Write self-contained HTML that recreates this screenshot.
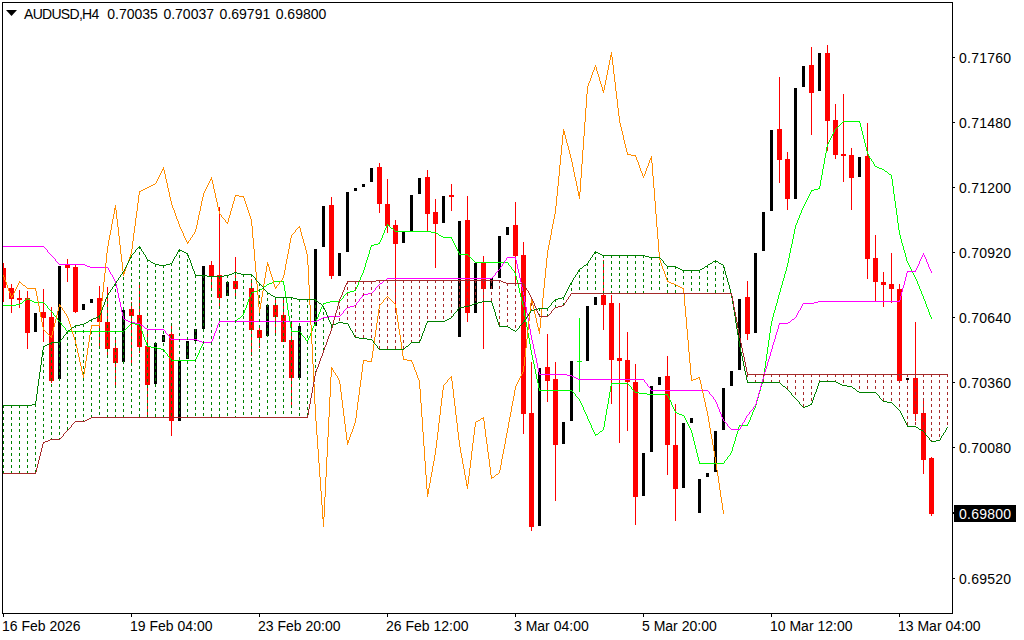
<!DOCTYPE html>
<html><head><meta charset="utf-8"><title>AUDUSD,H4</title>
<style>
html,body{margin:0;padding:0;background:#fff;}
body{width:1024px;height:640px;position:relative;overflow:hidden;font-family:"Liberation Sans",Arial,sans-serif;}
svg{position:absolute;left:0;top:0;}
.t{position:absolute;font-size:14px;line-height:16px;color:#000;white-space:nowrap;}
.w{color:#fff;}
.pb{position:absolute;left:954px;top:505px;width:62px;height:17px;background:#000;}
</style></head><body>
<svg width="1024" height="640" viewBox="0 0 1024 640" shape-rendering="crispEdges" fill="none" stroke-width="1">
<defs><clipPath id="c"><rect x="3" y="3" width="949" height="610"/></clipPath></defs>
<g clip-path="url(#c)">
<path d="M3.5 263v39M11.5 284v29M19.5 290v18M27.5 291v58M43.5 289v53M51.5 307v76M67.5 259v23M75.5 265v48M99.5 286v61M107.5 287v68M115.5 340v45M131.5 302v61M139.5 284v69M147.5 329v87M171.5 323v113M211.5 261v27M219.5 207v99M235.5 257v40M251.5 279v77M259.5 326v22M275.5 300v36M283.5 300v42M291.5 323v84M331.5 197v82M379.5 163v50M387.5 179v54M395.5 220v93M427.5 170v61M435.5 199v69M451.5 184v27M467.5 196v126M483.5 256v93M515.5 202v82M523.5 242v192M531.5 362v169M547.5 334v68M555.5 362v139M603.5 260v70M611.5 295v109M619.5 303v140M627.5 332v99M635.5 364v161M667.5 356v119M675.5 404v117M747.5 281v59M779.5 77v106M787.5 152v58M811.5 47v88M827.5 45v106M835.5 104v55M843.5 94v88M851.5 148v62M867.5 123v156M875.5 235v66M883.5 272v35M891.5 253v50M899.5 284v97M915.5 322v99M923.5 398v76M931.5 457v59" stroke="#ff0000"/>
<path d="M1 268h5v20h-5zM9 288h5v11h-5zM17 298h5v2h-5zM25 298h5v35h-5zM41 312h5v6h-5zM49 317h5v64h-5zM65 265h5v3h-5zM73 267h5v45h-5zM97 298h5v24h-5zM105 322h5v27h-5zM113 348h5v15h-5zM129 309h5v7h-5zM137 315h5v32h-5zM145 346h5v39h-5zM169 334h5v87h-5zM209 265h5v11h-5zM217 275h5v23h-5zM233 281h5v8h-5zM249 288h5v42h-5zM257 330h5v8h-5zM273 305h5v12h-5zM281 315h5v27h-5zM289 340h5v38h-5zM329 205h5v71h-5zM377 167h5v37h-5zM385 204h5v22h-5zM393 225h5v19h-5zM425 177h5v37h-5zM433 212h5v12h-5zM449 195h5v2h-5zM465 220h5v93h-5zM481 263h5v26h-5zM513 225h5v31h-5zM521 255h5v159h-5zM529 413h5v114h-5zM545 367h5v14h-5zM553 379h5v66h-5zM601 295h5v10h-5zM609 303h5v57h-5zM617 358h5v3h-5zM625 360h5v22h-5zM633 382h5v115h-5zM665 376h5v69h-5zM673 445h5v44h-5zM745 297h5v37h-5zM777 129h5v31h-5zM785 159h5v40h-5zM809 65h5v28h-5zM825 53h5v68h-5zM833 120h5v35h-5zM841 154h5v2h-5zM849 155h5v23h-5zM865 156h5v103h-5zM873 258h5v24h-5zM881 282h5v3h-5zM889 284h5v5h-5zM897 289h5v92h-5zM913 378h5v36h-5zM921 413h5v47h-5zM929 458h5v56h-5z" fill="#ff0000" stroke="none"/>
<path d="M34 313h3v19h-3zM58 266h3v113h-3zM82 304h3v6h-3zM90 299h3v4h-3zM122 310h3v52h-3zM154 343h3v41h-3zM162 335h3v7h-3zM178 361h3v60h-3zM186 341h3v18h-3zM194 329h3v12h-3zM202 266h3v63h-3zM226 282h3v14h-3zM266 305h3v31h-3zM298 326h3v52h-3zM314 249h3v77h-3zM322 206h3v41h-3zM338 253h3v23h-3zM346 192h3v60h-3zM354 188h3v3h-3zM362 184h3v3h-3zM370 168h3v14h-3zM402 232h3v11h-3zM410 195h3v36h-3zM418 178h3v16h-3zM442 196h3v27h-3zM458 221h3v116h-3zM474 263h3v50h-3zM490 278h3v11h-3zM498 236h3v42h-3zM506 227h3v8h-3zM538 368h3v158h-3zM562 422h3v22h-3zM570 361h3v60h-3zM586 306h3v55h-3zM594 297h3v8h-3zM642 453h3v43h-3zM650 386h3v66h-3zM658 377h3v8h-3zM682 423h3v65h-3zM690 418h3v5h-3zM698 479h3v34h-3zM706 473h3v4h-3zM714 431h3v41h-3zM722 388h3v42h-3zM730 371h3v15h-3zM738 299h3v71h-3zM754 253h3v80h-3zM762 212h3v39h-3zM770 130h3v81h-3zM794 88h3v111h-3zM802 66h3v21h-3zM818 53h3v38h-3zM858 157h3v20h-3zM906 378h3v2h-3z" fill="#000000" stroke="none"/>
<path d="M579.5 318v74M577 361.5h5" stroke="#00ff00"/>
<path d="M818 188.5h2M306 340.5h2M67 331.5h57M291 331.5h9M647 394.5h21M475 262.5h33M171 360.5h25M679 414.5h3M16 304.5h4M272 282.5h2M395 231.5h36M699 463.5h25M611 383.5h17M34 302.5h10M326 302.5h4M443 237.5h9M539 390.5h33M739 425.5h9M24 300.5h2M30 300.5h2M28 299.5h2M32 301.5h2M330 301.5h10M682 415.5h2M875 166.5h2M267 284.5h2M135 324.5h5M260 289.5h2M151 347.5h6M441 236.5h2M3 305.5h13M274 281.5h10M203 342.5h9M131 323.5h4M219 321.5h17M20 303.5h2M323 303.5h3M238 318.5h2M378 243.5h2M269 283.5h3M374 244.5h4M595 434.5h3M459 254.5h9M147 346.5h4M161 349.5h3M371 245.5h3M391 228.5h2M639 393.5h8M600 431.5h2M157 348.5h4M811 190.5h3M843 121.5h17M264 286.5h2M879 168.5h3M251 292.5h3M347 292.5h3M675 412.5h2M439 235.5h2M677 413.5h2M431 232.5h5M814 189.5h4M635 392.5h4M877 167.5h2M882 169.5h2M254 291.5h4M350 291.5h4M436 233.5h2M258 290.5h2M354 290.5h2M885 171.5h2M387 225.5h2M889 174.5h2M828.5 142v2M803.5 206v2M898.5 223v7M139.5 325v1M755.5 405v3M318.5 314v3M926.5 304v3M574.5 393v1M287.5 303v7M211.5 341v1M385.5 228v2M693.5 437v4M862.5 131v4M456.5 247v2M361.5 275v2M607.5 404v5M891.5 175v4M250.5 294v3M536.5 374v5M513.5 270v1M732.5 447v4M214.5 333v3M365.5 263v4M808.5 196v2M63.5 326v1M284.5 285v6M736.5 434v3M532.5 355v5M146.5 342v3M832.5 134v2M774.5 310v3M164.5 350v2M369.5 250v4M764.5 368v7M922.5 294v2M912.5 271v2M44.5 303v1M897.5 215v8M668.5 396v2M824.5 158v6M592.5 428v2M453.5 241v2M603.5 427v3M869.5 156v2M242.5 315v1M533.5 360v4M317.5 317v2M731.5 451v2M219.5 322v1M22.5 302v1M769.5 333v7M791.5 244v4M360.5 277v3M168.5 356v1M752.5 412v3M790.5 248v5M873.5 162v2M795.5 225v4M142.5 331v3M364.5 267v3M202.5 344v2M519.5 288v5M919.5 286v3M756.5 401v4M690.5 428v2M807.5 198v2M631.5 387v2M309.5 336v2M782.5 281v4M301.5 333v2M512.5 269v1M529.5 338v6M389.5 226v1M865.5 143v4M760.5 387v4M901.5 239v4M894.5 194v7M290.5 322v6M686.5 420v2M62.5 325v1M786.5 267v4M823.5 164v5M145.5 340v2M584.5 410v2M523.5 305v5M305.5 338v2M591.5 425v3M751.5 415v2M827.5 144v3M687.5 422v2M915.5 277v2M594.5 432v2M526.5 322v5M781.5 285v3M384.5 230v3M697.5 453v4M459.5 253v1M672.5 405v2M768.5 340v7M577.5 397v1M819.5 186v2M778.5 295v4M539.5 388v2M911.5 269v2M312.5 328v3M908.5 263v2M735.5 437v4M921.5 291v3M773.5 313v4M929.5 312v3M452.5 239v2M368.5 254v3M750.5 417v3M525.5 316v6M777.5 299v4M606.5 409v6M535.5 369v5M689.5 426v2M286.5 297v6M763.5 375v5M610.5 386v6M213.5 336v3M340.5 300v1M794.5 229v5M630.5 386v1M55.5 316v1M925.5 301v3M511.5 267v2M734.5 441v3M900.5 235v4M772.5 317v4M674.5 409v2M367.5 257v3M61.5 323v2M379.5 242v1M822.5 169v6M776.5 303v3M675.5 411v1M759.5 391v3M727.5 457v2M789.5 253v5M914.5 275v2M283.5 282v3M696.5 449v4M518.5 284v4M455.5 245v2M218.5 323v2M167.5 354v2M811.5 191v1M868.5 154v2M130.5 324v1M767.5 347v7M871.5 159v2M343.5 296v2M699.5 461v2M528.5 333v5M907.5 261v2M864.5 139v4M47.5 306v2M308.5 338v2M821.5 175v5M872.5 161v1M538.5 383v5M355.5 289v1M289.5 316v6M141.5 329v2M893.5 186v8M758.5 394v4M611.5 384v2M249.5 297v2M470.5 257v1M522.5 301v4M802.5 208v2M598.5 433v1M826.5 147v6M762.5 380v4M54.5 315v1M383.5 233v2M583.5 407v3M304.5 337v1M793.5 234v5M515.5 273v3M316.5 319v2M887.5 172v1M576.5 396v1M730.5 453v2M65.5 328v2M831.5 136v2M363.5 270v3M521.5 297v4M248.5 299v3M671.5 402v3M692.5 433v4M861.5 127v4M910.5 267v2M580.5 401v2M144.5 337v3M931.5 317v2M454.5 243v2M785.5 271v3M788.5 258v5M738.5 427v4M359.5 280v2M371.5 246v1M590.5 423v2M838.5 126v1M315.5 321v3M903.5 246v4M201.5 346v2M362.5 273v2M170.5 358v2M899.5 230v5M780.5 288v4M140.5 326v3M217.5 325v3M784.5 274v4M632.5 389v1M928.5 309v3M514.5 271v2M390.5 227v1M531.5 350v5M125.5 329v1M685.5 418v2M582.5 405v2M633.5 390v1M801.5 210v3M913.5 273v2M575.5 394v2M749.5 420v2M896.5 208v7M64.5 327v1M382.5 235v3M924.5 299v2M307.5 341v1M244.5 310v3M783.5 278v3M909.5 265v2M766.5 354v7M806.5 200v2M930.5 315v2M902.5 243v3M251.5 293v1M196.5 357v2M733.5 444v3M451.5 238v1M366.5 260v3M874.5 164v2M920.5 289v2M737.5 431v3M698.5 457v4M775.5 306v4M867.5 151v3M370.5 247v3M358.5 282v3M695.5 445v4M53.5 313v2M604.5 421v6M825.5 153v5M288.5 310v6M534.5 364v5M688.5 424v2M605.5 415v6M892.5 179v7M792.5 239v5M537.5 379v4M57.5 318v2M609.5 392v6M917.5 281v3M684.5 416v2M770.5 326v7M262.5 288v1M724.5 461v2M216.5 328v3M673.5 407v2M579.5 399v2M771.5 321v5M143.5 334v3M314.5 324v2M524.5 310v6M45.5 304v1M761.5 384v3M860.5 123v4M517.5 280v4M608.5 398v6M285.5 291v6M765.5 361v7M906.5 257v4M670.5 400v2M46.5 305v1M520.5 293v4M169.5 357v1M26.5 299v1M589.5 421v2M247.5 302v3M530.5 344v6M830.5 138v2M527.5 327v6M863.5 135v4M291.5 328v3M820.5 180v6M866.5 147v4M800.5 213v2M694.5 441v4M895.5 201v7M381.5 238v2M905.5 253v4M729.5 455v1M56.5 317v1M779.5 292v3M246.5 305v3M200.5 348v2M266.5 285v1M129.5 325v1M578.5 398v1M342.5 298v1M345.5 294v1M923.5 296v3M357.5 285v2M516.5 276v4M127.5 327v1M787.5 263v4M199.5 350v3M438.5 234v1M691.5 430v3M322.5 305v2M215.5 331v2M471.5 258v1M748.5 422v2M581.5 403v2M472.5 259v1M195.5 359v1M904.5 250v3M799.5 215v3M888.5 173v1M840.5 124v1M66.5 330v1M837.5 127v1M669.5 398v2M588.5 419v2M48.5 308v1M124.5 330v1M918.5 284v2M237.5 319v1M634.5 391v1M241.5 316v1M198.5 353v2M587.5 416v3M245.5 308v2M884.5 170v1M602.5 430v1M313.5 326v2M739.5 426v1M356.5 287v2M302.5 335v1M595.5 435v1M321.5 307v2M835.5 129v1M380.5 240v2M508.5 263v2M320.5 309v3M798.5 218v2M58.5 320v1M810.5 192v2M473.5 260v1M344.5 295v1M474.5 261v1M126.5 328v1M754.5 408v2M842.5 122v1M667.5 395v1M747.5 424v1M726.5 459v1M243.5 313v2M197.5 355v2M51.5 311v1M805.5 202v2M839.5 125v1M236.5 320v1M300.5 332v1M757.5 398v3M797.5 220v3M834.5 130v2M319.5 312v2M49.5 309v1M809.5 194v2M586.5 414v2M387.5 224v1M50.5 310v1M311.5 331v2M23.5 301v1M572.5 391v1M240.5 317v1M916.5 279v2M629.5 385v1M147.5 345v1M753.5 410v2M829.5 140v2M212.5 339v2M386.5 226v2M458.5 251v2M310.5 333v3M263.5 287v1M628.5 384v1M927.5 307v2M796.5 223v2M469.5 256v1M833.5 132v2M27.5 298v1M60.5 322v1M303.5 336v1M593.5 430v2M203.5 343v1M457.5 249v2M804.5 204v2M394.5 230v1M841.5 123v1M165.5 352v1M346.5 293v1M725.5 460v1M859.5 122v1M166.5 353v1M468.5 255v1M585.5 412v2M509.5 265v1M128.5 326v1M341.5 299v1M59.5 321v1M510.5 266v1M599.5 432v1M393.5 229v1M323.5 304v1M728.5 456v1M870.5 158v1M52.5 312v1M573.5 392v1M836.5 128v1" stroke="#00ff00"/>
<path d="M199 341.5h3M135 323.5h5M779 323.5h9M907 271.5h9M387 278.5h105M128 321.5h2M219 321.5h98M651 390.5h57M323 317.5h5M59 264.5h26M124 319.5h2M319 319.5h2M792 319.5h2M818 301.5h82M578 379.5h66M539 374.5h28M814 302.5h4M171 339.5h26M202 342.5h10M328 316.5h12M368 293.5h4M147 329.5h17M130 322.5h5M788 322.5h2M3 246.5h41M90 267.5h18M145 328.5h2M731 429.5h9M347 307.5h3M803 303.5h11M363 294.5h5M197 340.5h2M572 376.5h2M350 306.5h4M384 280.5h2M567 375.5h5M354 305.5h2M507 257.5h9M576 378.5h2M141 325.5h2M126 320.5h2M317 320.5h2M87 266.5h3M85 265.5h2M321 318.5h2M380 283.5h2M574 377.5h2M797.5 313v2M800.5 308v2M752.5 409v1M755.5 404v2M340.5 315v1M211.5 341v1M769.5 356v3M530.5 329v6M650.5 388v2M923.5 253v2M527.5 313v5M214.5 333v3M717.5 404v3M523.5 291v5M773.5 342v3M516.5 260v4M764.5 372v4M379.5 284v1M796.5 315v2M526.5 307v6M219.5 322v1M777.5 329v3M383.5 281v1M113.5 277v2M919.5 261v3M721.5 414v3M930.5 269v2M536.5 358v5M724.5 421v1M756.5 400v4M931.5 271v2M899.5 300v1M123.5 316v3M772.5 345v4M165.5 331v2M725.5 422v1M760.5 386v4M116.5 284v4M776.5 332v3M533.5 344v5M926.5 259v3M117.5 288v5M497.5 271v1M356.5 303v2M918.5 264v2M120.5 302v5M713.5 397v2M519.5 273v5M907.5 272v1M768.5 359v3M492.5 277v1M529.5 324v5M714.5 399v1M532.5 340v4M109.5 270v2M763.5 376v3M213.5 336v3M119.5 298v4M767.5 362v4M500.5 267v2M343.5 311v2M52.5 256v1M525.5 302v5M53.5 257v1M759.5 390v3M359.5 299v2M218.5 323v2M779.5 324v1M112.5 275v2M929.5 267v2M44.5 247v1M758.5 393v4M922.5 255v2M108.5 268v2M164.5 330v1M45.5 248v1M751.5 410v1M720.5 412v2M362.5 295v2M528.5 318v6M791.5 320v1M746.5 416v2M522.5 287v4M716.5 402v2M795.5 317v1M902.5 288v4M535.5 354v4M118.5 293v5M515.5 258v2M775.5 335v4M499.5 269v1M917.5 266v2M742.5 423v2M906.5 273v4M723.5 419v2M799.5 310v1M754.5 406v1M217.5 325v3M727.5 424v2M644.5 380v2M122.5 312v4M771.5 349v3M762.5 379v4M518.5 269v4M719.5 409v3M645.5 382v1M55.5 259v2M741.5 425v2M905.5 277v4M766.5 366v3M757.5 397v3M538.5 368v4M921.5 257v2M715.5 400v2M342.5 313v1M115.5 281v3M531.5 335v5M345.5 309v1M373.5 291v1M770.5 352v4M901.5 292v4M47.5 250v2M722.5 417v2M496.5 272v1M765.5 369v3M928.5 264v3M48.5 252v1M521.5 282v5M778.5 325v4M216.5 328v3M900.5 296v4M761.5 383v3M916.5 268v2M534.5 349v5M537.5 363v5M753.5 407v2M121.5 307v5M376.5 287v1M502.5 264v2M745.5 418v2M166.5 333v1M726.5 423v1M524.5 296v6M774.5 339v3M517.5 264v5M167.5 334v1M520.5 278v4M744.5 420v2M54.5 258v1M143.5 326v1M904.5 281v4M740.5 427v2M215.5 331v2M361.5 297v1M748.5 414v1M920.5 259v2M729.5 427v1M647.5 384v2M498.5 270v1M341.5 314v1M114.5 279v2M505.5 260v1M46.5 249v1M728.5 426v1M903.5 285v3M927.5 262v2M169.5 336v2M375.5 288v2M378.5 285v1M646.5 383v1M344.5 310v1M56.5 261v1M718.5 407v2M57.5 262v1M110.5 272v2M493.5 276v1M915.5 270v1M168.5 335v1M49.5 253v1M382.5 282v1M539.5 372v2M386.5 279v1M501.5 266v1M504.5 261v2M710.5 394v1M709.5 392v2M648.5 386v1M743.5 422v1M649.5 387v1M144.5 327v1M747.5 415v1M750.5 411v1M358.5 301v1M802.5 304v2M374.5 290v1M708.5 391v1M798.5 311v2M495.5 273v2M790.5 321v1M346.5 308v1M377.5 286v1M170.5 338v1M730.5 428v1M925.5 257v2M140.5 324v1M212.5 339v2M712.5 396v1M111.5 274v1M794.5 318v1M51.5 255v1M503.5 263v1M506.5 258v2M924.5 255v2M749.5 412v2M372.5 292v1M711.5 395v1M58.5 263v1M801.5 306v2M357.5 302v1M50.5 254v1M494.5 275v1M360.5 298v1" stroke="#ff00ff"/>
<path d="M3.5 405V474M11.5 405V474M19.5 405V474M27.5 405V474M35.5 404V474M43.5 346V443M51.5 342V440M59.5 342V440M67.5 331V431M75.5 325V422M83.5 324V422M91.5 319V418M99.5 316V418M107.5 295V418M115.5 283V418M123.5 271V418M131.5 255V418M139.5 246V418M147.5 259V418M155.5 264V418M163.5 265V418M171.5 263V418M179.5 249V418M187.5 253V418M195.5 275V418M203.5 275V418M211.5 276V418M219.5 276V418M227.5 275V418M235.5 272V418M243.5 274V418M251.5 274V418M259.5 283V418M267.5 292V418M275.5 297V418M283.5 297V418M291.5 297V418M299.5 299V418M307.5 299V418M315.5 299V374M323.5 306V352M331.5 325V330M539.5 308V317M547.5 308V317M555.5 299V308M563.5 297V306M571.5 282V294M579.5 269V294M587.5 263V294M595.5 251V294M603.5 255V294M611.5 255V294M619.5 255V294M627.5 255V294M635.5 255V294M643.5 255V294M651.5 257V294M659.5 257V294M667.5 266V294M675.5 266V294M683.5 270V294M691.5 270V294M699.5 270V294M707.5 265V294M715.5 260V294M723.5 265V294" stroke="#008000" stroke-dasharray="3 3"/>
<path d="M339.5 300V323M347.5 281V324M355.5 281V338M363.5 281V339M371.5 281V340M379.5 280V350M387.5 280V350M395.5 280V350M403.5 280V350M411.5 280V343M419.5 280V343M427.5 280V322M435.5 280V322M443.5 280V322M451.5 280V318M459.5 280V308M467.5 280V307M475.5 280V304M483.5 280V302M491.5 280V302M499.5 280V327M507.5 283V327M515.5 283V332M523.5 283V323M531.5 297V311M731.5 293V295M739.5 335V345M747.5 374V383M755.5 374V383M763.5 374V383M771.5 374V383M779.5 374V383M787.5 374V390M795.5 374V399M803.5 374V408M811.5 374V405M819.5 374V382M827.5 374V382M835.5 374V382M843.5 374V386M851.5 374V387M859.5 374V393M867.5 374V393M875.5 374V393M883.5 374V402M891.5 374V403M899.5 374V411M907.5 374V427M915.5 374V427M923.5 374V432M931.5 374V442M939.5 374V441M947.5 374V428" stroke="#a52a2a" stroke-dasharray="3 3"/>
<path d="M11 296.5h2M491 477.5h3M691 380.5h2M367 361.5h5M147 187.5h2M331 369.5h2M578 194.5h2M153 184.5h2M693 379.5h3M678 286.5h2M531 301.5h2M123 271.5h2M82 374.5h2M235 195.5h4M578 195.5h2M538 329.5h2M671 283.5h3M563 131.5h2M347 442.5h2M696 378.5h2M151 185.5h2M322 517.5h2M531 302.5h2M123 272.5h2M450 377.5h2M698 377.5h2M650 159.5h2M114 209.5h2M674 284.5h2M259 308.5h2M50 336.5h2M141 190.5h2M476 421.5h2M481 418.5h3M259 307.5h2M631 155.5h5M347 441.5h2M275 287.5h2M680 287.5h2M123 273.5h2M23 285.5h2M676 285.5h2M538 330.5h2M143 189.5h2M210 179.5h2M145 188.5h2M427 491.5h2M466 484.5h2M650 158.5h2M27 288.5h9M682 288.5h2M403 359.5h4M59 306.5h2M19 282.5h2M669 282.5h2M149 186.5h2M331 368.5h2M578 193.5h2M298 227.5h2M226 222.5h2M466 485.5h2M239 196.5h5M478 420.5h2M59 305.5h2M563 134.5h2M187 242.5h2M114 208.5h2M91 325.5h9M563 133.5h2M347 440.5h2M578 192.5h2M427 490.5h2M602 90.5h2M162 169.5h2M267 264.5h2M267 265.5h2M427 493.5h2M538 328.5h2M496 474.5h2M139 191.5h2M363 360.5h4M407 360.5h5M322 518.5h2M667 281.5h2M427 492.5h2M627 154.5h4M563 132.5h2M427 489.5h2M610 55.5h2M610 56.5h2M683.5 289v5M37.5 296v5M166.5 179v4M266.5 266v6M158.5 177v2M426.5 475v14M465.5 475v5M499.5 470v3M526.5 339v9M548.5 245v5M662.5 266v3M700.5 380v4M249.5 213v3M489.5 459v8M421.5 403v14M199.5 211v4M594.5 67v3M310.5 305v20M397.5 315v7M557.5 186v10M543.5 288v10M312.5 344v20M616.5 91v8M215.5 193v5M551.5 229v6M107.5 246v7M424.5 446v15M525.5 348v9M601.5 84v3M655.5 201v13M418.5 378v2M586.5 94v14M314.5 384v20M320.5 477v14M556.5 196v10M649.5 160v3M719.5 483v7M602.5 87v3M7.5 285v3M461.5 453v5M652.5 163v13M441.5 398v8M542.5 298v10M591.5 75v3M221.5 215v2M713.5 445v6M77.5 348v5M317.5 435v14M580.5 178v14M284.5 270v5M244.5 198v3M706.5 407v4M330.5 377v20M585.5 108v14M341.5 392v8M307.5 254v11M361.5 372v8M474.5 427v8M715.5 457v6M507.5 428v5M562.5 135v10M318.5 449v14M225.5 220v2M373.5 344v7M378.5 309v7M194.5 232v2M400.5 335v7M43.5 327v3M115.5 205v3M613.5 65v9M530.5 303v9M619.5 116v7M440.5 406v9M179.5 224v3M452.5 381v8M430.5 477v6M211.5 177v2M257.5 284v11M356.5 410v8M21.5 283v1M329.5 397v20M584.5 122v14M360.5 380v7M569.5 150v4M233.5 201v3M561.5 145v10M423.5 432v14M261.5 297v6M572.5 162v5M319.5 463v14M300.5 228v4M434.5 455v6M511.5 406v6M691.5 375v5M718.5 476v7M87.5 348v7M651.5 156v2M651.5 160v3M133.5 233v8M207.5 185v2M198.5 215v5M137.5 203v8M344.5 416v8M490.5 467v8M382.5 302v1M604.5 85v5M169.5 192v5M625.5 144v4M106.5 253v10M455.5 406v9M118.5 227v9M583.5 136v14M688.5 340v12M546.5 258v10M550.5 235v5M132.5 241v8M575.5 177v4M636.5 157v3M256.5 272v12M451.5 376v1M451.5 378v3M524.5 357v9M228.5 218v4M555.5 206v8M372.5 351v7M49.5 335v1M660.5 260v3M447.5 380v2M347.5 443v2M582.5 150v14M541.5 308v10M105.5 263v10M608.5 65v5M643.5 176v2M464.5 469v6M120.5 245v9M328.5 417v20M254.5 249v12M663.5 269v2M708.5 416v6M250.5 216v3M377.5 316v7M457.5 423v9M355.5 418v5M664.5 271v3M709.5 422v6M359.5 387v8M393.5 302v1M439.5 415v8M36.5 291v5M210.5 180v1M322.5 505v12M402.5 349v7M428.5 488v1M443.5 385v5M114.5 210v4M100.5 311v10M657.5 227v12M272.5 277v3M232.5 204v4M540.5 318v10M138.5 195v8M413.5 364v3M615.5 82v9M687.5 329v11M117.5 219v8M484.5 421v8M316.5 421v14M396.5 308v7M560.5 155v10M327.5 437v20M597.5 71v3M654.5 188v13M75.5 340v4M206.5 187v2M438.5 423v9M539.5 331v3M574.5 172v5M600.5 81v3M685.5 306v11M309.5 285v20M612.5 57v8M528.5 321v9M346.5 432v8M123.5 274v2M197.5 220v5M303.5 239v4M559.5 165v11M136.5 211v7M659.5 252v8M340.5 384v8M6.5 282v3M515.5 386v4M253.5 238v11M91.5 326v3M42.5 322v5M311.5 325v19M545.5 268v10M263.5 284v7M463.5 464v5M618.5 108v8M656.5 214v13M306.5 250v4M227.5 223v1M425.5 461v14M558.5 176v10M135.5 218v8M326.5 457v20M420.5 389v14M58.5 307v4M104.5 273v9M178.5 221v3M653.5 176v12M544.5 278v10M108.5 240v6M376.5 323v7M506.5 433v5M535.5 314v4M82.5 371v3M343.5 408v8M717.5 470v6M684.5 294v12M113.5 214v5M466.5 480v4M701.5 384v5M459.5 440v7M56.5 315v4M442.5 390v8M185.5 238v2M471.5 451v9M358.5 395v7M593.5 70v2M475.5 422v5M711.5 434v5M422.5 417v15M205.5 189v2M259.5 309v4M325.5 477v20M103.5 282v10M416.5 372v3M509.5 417v5M624.5 140v4M286.5 259v5M313.5 364v20M486.5 437v7M432.5 466v6M398.5 322v7M196.5 225v4M514.5 390v6M419.5 380v9M357.5 402v8M437.5 432v8M86.5 355v6M321.5 491v14M78.5 353v4M720.5 490v7M90.5 329v6M527.5 330v9M262.5 291v6M246.5 204v3M587.5 86v8M134.5 226v7M549.5 240v5M267.5 262v2M522.5 372v2M64.5 311v2M690.5 363v12M401.5 342v7M258.5 295v12M89.5 335v7M116.5 210v9M270.5 271v3M483.5 417v1M483.5 419v2M606.5 75v5M395.5 304v4M570.5 154v4M71.5 327v4M324.5 497v20M453.5 389v9M505.5 438v6M271.5 274v3M581.5 164v14M255.5 261v11M375.5 330v7M273.5 280v4M510.5 412v5M74.5 337v3M308.5 265v20M353.5 426v3M345.5 424v8M112.5 219v5M552.5 224v5M15.5 289v2M230.5 211v4M658.5 239v13M703.5 393v5M293.5 233v1M102.5 292v9M203.5 193v4M470.5 460v8M362.5 364v8M302.5 236v3M563.5 129v2M374.5 337v7M689.5 352v11M252.5 226v12M323.5 519v8M41.5 317v5M173.5 208v2M119.5 236v9M617.5 99v9M566.5 139v4M456.5 415v8M85.5 361v7M686.5 317v12M101.5 301v10M290.5 238v5M315.5 404v17M469.5 468v8M234.5 197v4M722.5 503v7M473.5 435v8M723.5 510v4M521.5 374v2M81.5 366v5M435.5 448v7M121.5 254v8M622.5 131v4M18.5 283v2M485.5 429v8M517.5 382v2M331.5 367v1M331.5 370v7M217.5 202v5M415.5 370v2M352.5 429v3M111.5 224v6M648.5 163v3M14.5 291v2M229.5 215v3M590.5 78v3M245.5 201v3M66.5 314v2M488.5 452v7M51.5 335v1M51.5 337v1M84.5 368v6M512.5 401v5M289.5 243v6M67.5 316v2M520.5 376v2M386.5 297v1M547.5 250v8M334.5 372v1M214.5 189v4M265.5 272v6M381.5 303v1M338.5 378v2M712.5 439v6M516.5 384v2M491.5 475v2M491.5 478v1M503.5 449v5M589.5 81v2M626.5 148v4M639.5 165v3M399.5 329v6M110.5 230v5M46.5 332v1M533.5 305v4M389.5 298v1M279.5 282v2M251.5 219v7M88.5 342v6M454.5 398v8M529.5 312v9M433.5 461v5M264.5 278v6M76.5 344v4M9.5 291v2M292.5 234v1M523.5 366v6M472.5 443v8M536.5 318v5M170.5 197v4M53.5 327v4M638.5 162v3M291.5 235v3M501.5 459v6M48.5 334v1M192.5 235v2M390.5 299v1M235.5 196v1M391.5 300v1M620.5 123v4M665.5 274v3M26.5 287v1M167.5 183v5M126.5 265v3M4.5 277v3M573.5 167v5M599.5 77v4M380.5 304v1M305.5 246v4M8.5 288v3M462.5 458v6M349.5 437v3M513.5 396v5M436.5 440v8M641.5 171v2M614.5 74v8M180.5 227v2M200.5 206v5M191.5 237v1M212.5 180v4M22.5 284v1M125.5 268v3M122.5 262v9M623.5 135v5M576.5 181v5M218.5 207v4M165.5 174v5M129.5 257v3M468.5 476v8M269.5 267v4M458.5 432v8M385.5 298v1M260.5 303v4M275.5 288v1M537.5 323v4M705.5 402v5M304.5 243v3M487.5 444v8M609.5 60v5M175.5 213v3M640.5 168v3M161.5 171v2M299.5 226v1M296.5 229v1M39.5 306v6M417.5 375v3M603.5 91v2M79.5 357v5M721.5 497v6M109.5 235v5M164.5 170v4M193.5 234v1M68.5 318v3M188.5 241v1M213.5 184v5M571.5 158v4M287.5 254v5M592.5 72v3M460.5 447v6M704.5 398v4M635.5 156v1M627.5 152v2M174.5 210v3M131.5 249v5M387.5 296v1M446.5 382v1M607.5 70v5M710.5 428v6M187.5 243v1M504.5 444v5M553.5 219v5M363.5 361v3M379.5 305v4M431.5 472v5M342.5 400v8M645.5 171v3M707.5 411v5M280.5 281v1M301.5 232v4M55.5 319v4M335.5 373v2M40.5 312v5M508.5 422v6M285.5 264v6M644.5 174v2M186.5 240v2M605.5 80v5M73.5 334v3M202.5 197v4M65.5 313v1M568.5 146v4M128.5 260v3M336.5 375v1M467.5 486v3M702.5 389v4M17.5 285v2M157.5 179v2M337.5 376v2M295.5 230v2M13.5 293v2M247.5 207v3M209.5 181v2M554.5 214v5M57.5 311v4M371.5 358v3M596.5 67v4M611.5 52v3M72.5 331v3M714.5 451v6M52.5 331v4M567.5 143v3M642.5 173v3M445.5 383v1M208.5 183v2M383.5 300v2M412.5 362v2M162.5 170v1M716.5 463v7M70.5 324v3M595.5 65v2M297.5 228v1M3.5 275v2M598.5 74v3M565.5 135v4M637.5 160v2M176.5 216v3M182.5 231v2M579.5 196v3M288.5 249v5M480.5 419v1M534.5 309v5M168.5 188v4M403.5 356v3M54.5 323v4M502.5 454v5M392.5 301v1M160.5 173v2M69.5 321v3M429.5 483v5M16.5 287v2M156.5 181v2M99.5 321v4M171.5 201v4M647.5 166v2M577.5 186v5M201.5 201v5M61.5 307v1M38.5 301v5M621.5 127v4M518.5 380v2M666.5 277v3M274.5 284v3M216.5 198v4M449.5 378v1M500.5 465v5M139.5 192v3M394.5 303v1M339.5 380v4M610.5 57v3M204.5 191v2M59.5 304v1M531.5 298v3M63.5 310v1M80.5 362v4M661.5 263v3M248.5 210v3M667.5 280v1M10.5 293v3M25.5 286v1M83.5 375v3M414.5 367v3M494.5 476v1M351.5 432v2M220.5 214v1M243.5 197v1M283.5 275v3M35.5 289v2M384.5 299v1M127.5 263v2M519.5 378v2M350.5 434v3M646.5 168v3M588.5 83v3M177.5 219v2M532.5 303v2M184.5 236v2M181.5 229v2M354.5 423v3M278.5 284v1M231.5 208v3M219.5 211v3M163.5 167v2M130.5 254v3M538.5 327v1M427.5 494v3M172.5 205v3M195.5 229v3M699.5 378v2M183.5 233v3M498.5 473v1M411.5 361v1M224.5 219v1M268.5 266v1M190.5 238v2M444.5 384v1M12.5 295v1M62.5 308v2M333.5 370v2M5.5 280v2M11.5 297v1M44.5 330v1M45.5 331v1M282.5 278v2M388.5 297v1M277.5 285v1M159.5 175v2M19.5 281v1M495.5 475v1M155.5 183v1M47.5 333v1M448.5 379v1M189.5 240v1M276.5 286v1M578.5 191v1M222.5 217v1M223.5 218v1M281.5 280v1M294.5 232v1" stroke="#ff8c00"/>
<path d="M602 255.5h43M600 254.5h2M379 349.5h25M819 381.5h17M511 329.5h2M499 326.5h9M275 297.5h18M562 297.5h2M47 344.5h2M747 382.5h33M836 382.5h2M907 426.5h9M783 386.5h2M847 386.5h5M151 262.5h2M180 250.5h2M367 339.5h5M464 306.5h5M207 276.5h17M469 305.5h3M645 256.5h4M229 274.5h3M241 274.5h11M859 392.5h17M538 308.5h10M93 318.5h3M449 318.5h2M676 267.5h2M682 270.5h18M159 265.5h7M584 265.5h2M857 391.5h2M51 342.5h9M411 342.5h9M534 309.5h4M268 293.5h2M86 322.5h2M338 322.5h5M80 324.5h4M333 324.5h3M931 441.5h5M84 323.5h2M336 323.5h2M343 323.5h5M916 427.5h2M153 263.5h2M170 263.5h2M710 263.5h2M719 263.5h2M803 407.5h2M184 252.5h2M596 252.5h2M713 261.5h2M716 261.5h2M667 266.5h9M705 266.5h2M195 275.5h12M224 275.5h5M649 257.5h11M232 273.5h2M237 273.5h4M68 330.5h2M513 330.5h2M98 316.5h2M45 345.5h2M427 321.5h18M148 260.5h2M89 320.5h2M445 320.5h2M459 307.5h5M297 299.5h19M555 299.5h3M680 269.5h2M700 269.5h2M478 302.5h4M49 343.5h2M319 303.5h2M474 303.5h4M472 304.5h2M936 440.5h4M840 384.5h2M155 264.5h4M166 264.5h4M708 264.5h2M721 264.5h2M273 296.5h2M887 402.5h5M3 405.5h29M808 405.5h2M32 404.5h4M810 404.5h2M96 317.5h2M234 272.5h3M531 310.5h3M75 325.5h5M331 325.5h2M853 388.5h2M359 338.5h8M580 268.5h2M678 268.5h2M702 268.5h2M482 301.5h10M43 346.5h2M406 346.5h2M838 383.5h2M355 337.5h4M91 319.5h2M447 319.5h2M293 298.5h4M558 298.5h4M182 251.5h2M186 253.5h2M598 253.5h2M271 295.5h2M72 327.5h2M508 327.5h2M919 429.5h2M842 385.5h5M883 401.5h4M921 430.5h2M805 406.5h3M377.5 346v2M66.5 332v2M39.5 372v7M665.5 264v1M593.5 254v1M423.5 331v2M43.5 347v3M729.5 285v4M258.5 282v1M351.5 330v1M70.5 329v1M739.5 341v6M137.5 248v1M492.5 303v3M38.5 379v7M945.5 430v2M577.5 272v2M42.5 350v7M105.5 299v3M926.5 435v1M493.5 306v3M725.5 271v4M718.5 262v1M141.5 249v2M726.5 275v3M420.5 339v2M738.5 335v6M113.5 286v1M193.5 269v2M496.5 316v3M550.5 305v1M941.5 436v2M101.5 310v3M573.5 278v2M745.5 371v4M145.5 255v2M565.5 293v2M589.5 260v1M895.5 406v1M732.5 298v6M794.5 397v1M120.5 275v2M877.5 394v1M782.5 385v1M896.5 407v1M742.5 356v5M74.5 326v1M735.5 316v7M907.5 425v1M817.5 386v3M569.5 285v2M731.5 293v5M328.5 317v3M457.5 309v2M499.5 325v1M37.5 386v8M116.5 281v2M741.5 352v4M522.5 323v1M525.5 319v1M553.5 301v1M62.5 338v1M140.5 247v2M664.5 263v1M592.5 255v2M454.5 313v1M495.5 312v4M144.5 254v1M728.5 282v3M104.5 302v3M724.5 267v4M903.5 417v2M925.5 433v2M422.5 333v3M744.5 366v5M65.5 334v1M929.5 438v2M816.5 389v3M143.5 252v2M127.5 263v2M139.5 246v1M147.5 259v1M663.5 261v2M734.5 310v6M373.5 341v2M192.5 266v3M427.5 322v1M906.5 423v2M41.5 357v8M796.5 399v1M737.5 329v6M100.5 313v2M880.5 398v1M112.5 287v2M797.5 400v1M747.5 380v2M260.5 284v1M564.5 295v2M498.5 322v3M178.5 250v2M36.5 394v7M491.5 302v1M743.5 361v5M588.5 261v2M740.5 347v5M267.5 292v1M928.5 437v1M119.5 277v1M327.5 315v2M528.5 314v2M788.5 390v1M146.5 257v2M174.5 257v2M595.5 251v1M789.5 391v1M191.5 263v3M576.5 274v1M136.5 249v1M905.5 421v2M409.5 344v1M40.5 365v7M494.5 309v3M727.5 278v4M524.5 320v2M421.5 336v3M819.5 382v1M815.5 392v2M879.5 396v2M131.5 255v2M88.5 321v1M453.5 314v2M902.5 415v2M730.5 289v4M572.5 280v2M35.5 401v3M188.5 255v3M115.5 283v1M326.5 312v3M103.5 305v2M252.5 275v1M142.5 251v1M570.5 283v2M736.5 323v6M516.5 330v1M666.5 265v1M372.5 340v1M259.5 283v1M904.5 419v2M102.5 307v3M723.5 265v2M456.5 311v1M799.5 402v2M897.5 408v1M126.5 265v2M715.5 260v1M927.5 436v1M733.5 304v6M118.5 278v2M898.5 409v1M316.5 300v1M64.5 335v1M497.5 319v3M591.5 257v1M852.5 387v1M818.5 383v3M594.5 252v2M746.5 375v5M179.5 249v1M519.5 326v2M122.5 272v2M814.5 394v3M791.5 393v2M130.5 257v2M323.5 306v2M792.5 395v1M175.5 256v1M579.5 269v1M707.5 265v1M527.5 316v1M901.5 413v2M882.5 400v1M451.5 317v1M930.5 440v1M194.5 271v3M125.5 267v2M404.5 348v1M374.5 343v1M425.5 325v3M114.5 284v2M190.5 260v3M523.5 322v1M813.5 397v3M419.5 341v1M109.5 292v1M881.5 399v1M900.5 411v2M530.5 311v2M798.5 401v1M67.5 331v1M424.5 328v3M71.5 328v1M812.5 400v3M138.5 247v1M325.5 310v2M790.5 392v1M408.5 345v1M944.5 432v1M133.5 253v1M892.5 403v1M322.5 305v1M893.5 404v1M261.5 285v1M940.5 438v2M129.5 259v2M899.5 410v1M518.5 328v1M121.5 274v1M549.5 306v1M329.5 320v2M515.5 331v1M321.5 304v1M324.5 308v2M253.5 276v1M568.5 287v2M108.5 293v2M918.5 428v1M661.5 259v1M254.5 277v1M526.5 317v2M521.5 324v1M800.5 404v1M124.5 269v2M552.5 302v1M189.5 258v2M61.5 339v1M801.5 405v1M317.5 301v1M786.5 388v1M177.5 252v2M660.5 258v1M510.5 328v1M947.5 427v1M458.5 308v1M793.5 396v1M128.5 261v2M354.5 335v2M117.5 280v1M173.5 259v2M264.5 289v1M350.5 328v2M410.5 343v1M943.5 433v2M426.5 323v2M575.5 275v2M135.5 250v2M331.5 324v1M132.5 254v1M99.5 315v1M256.5 280v1M111.5 289v1M583.5 266v1M529.5 313v1M257.5 281v1M587.5 263v1M353.5 333v2M376.5 345v1M263.5 287v2M876.5 393v1M811.5 403v1M567.5 289v2M107.5 295v2M785.5 387v1M195.5 274v1M712.5 262v1M255.5 278v2M375.5 344v1M60.5 340v2M172.5 261v2M590.5 258v2M452.5 316v1M551.5 303v2M571.5 282v1M349.5 326v2M330.5 322v2M517.5 329v1M520.5 325v1M548.5 307v1M352.5 331v2M123.5 271v1M262.5 286v1M781.5 384v1M924.5 432v1M946.5 428v2M578.5 270v2M704.5 267v1M270.5 294v1M554.5 300v1M63.5 336v2M780.5 383v1M894.5 405v1M566.5 291v2M106.5 297v2M378.5 348v1M150.5 261v1M795.5 398v1M348.5 324v2M942.5 435v1M923.5 431v1M176.5 254v2M110.5 290v2M802.5 406v1M662.5 260v1M582.5 267v1M455.5 312v1M405.5 347v1M574.5 277v1M265.5 290v1M878.5 395v1M318.5 302v1M134.5 252v1M266.5 291v1M187.5 254v1M787.5 389v1M855.5 389v1M586.5 264v1M856.5 390v1" stroke="#008000"/>
<path d="M571 293.5h161M747 374.5h201M75 421.5h10M376 280.5h125M91 417.5h217M3 473.5h33M347 281.5h29M501 281.5h2M506 283.5h18M539 316.5h9M48 440.5h2M43 442.5h2M555 307.5h3M89 418.5h2M503 282.5h3M50 439.5h10M85 420.5h2M562 305.5h2M45 441.5h3M558 306.5h4M87 419.5h2M63.5 434v2M569.5 296v1M527.5 290v1M531.5 297v2M328.5 336v3M739.5 333v5M345.5 285v2M320.5 358v3M332.5 324v4M324.5 347v3M524.5 284v2M537.5 311v2M735.5 312v5M311.5 393v5M738.5 328v5M315.5 372v4M538.5 313v2M40.5 452v4M319.5 361v3M745.5 362v5M307.5 415v2M70.5 427v1M732.5 296v5M742.5 348v5M36.5 468v4M337.5 306v4M530.5 295v2M731.5 294v2M316.5 369v3M344.5 287v3M741.5 343v5M310.5 398v6M336.5 310v3M323.5 350v3M327.5 339v3M39.5 456v4M734.5 307v5M67.5 430v1M526.5 288v2M314.5 376v6M744.5 357v5M339.5 299v3M62.5 436v1M568.5 297v2M534.5 303v3M335.5 313v4M42.5 444v4M551.5 311v2M318.5 364v3M548.5 315v1M322.5 353v3M525.5 286v2M326.5 342v3M38.5 460v4M536.5 308v3M737.5 322v6M309.5 404v5M338.5 302v4M313.5 382v5M343.5 290v2M334.5 317v3M743.5 353v4M37.5 464v4M740.5 338v5M69.5 428v1M317.5 367v2M41.5 448v4M333.5 320v4M308.5 409v6M312.5 387v6M733.5 301v6M736.5 317v5M61.5 437v1M746.5 367v5M72.5 424v1M342.5 292v3M565.5 302v1M535.5 306v2M321.5 356v2M330.5 331v3M64.5 433v1M550.5 313v1M341.5 295v2M553.5 309v1M35.5 472v1M71.5 425v2M331.5 328v3M340.5 297v2M74.5 422v1M564.5 303v2M43.5 443v1M66.5 431v1M533.5 301v2M552.5 310v1M532.5 299v2M567.5 299v1M570.5 294v2M347.5 282v1M73.5 423v1M529.5 293v2M747.5 372v2M68.5 429v1M329.5 334v2M566.5 300v2M528.5 291v2M346.5 283v2M65.5 432v1M325.5 345v2M539.5 315v1M60.5 438v1M554.5 308v1M549.5 314v1" stroke="#a52a2a"/>
</g>
<path d="M2 2.5H953M2.5 2V614M2 613.5H953M952.5 2V614" stroke="#000"/>
<path d="M953 57.5h2M953 122.5h2M953 187.5h2M953 252.5h2M953 317.5h2M953 382.5h2M953 447.5h2M953 513.5h2M953 578.5h2M953 512.5h2M3.5 614v3M131.5 614v3M259.5 614v3M387.5 614v3M515.5 614v3M643.5 614v3M771.5 614v3M899.5 614v3" stroke="#000"/>
<path d="M6 10h11l-5.500 6z" fill="#000" stroke="none" shape-rendering="auto"/>
</svg>
<div class="t" style="left:959px;top:50px;letter-spacing:.25px">0.71760</div><div class="t" style="left:959px;top:115px;letter-spacing:.25px">0.71480</div><div class="t" style="left:959px;top:180px;letter-spacing:.25px">0.71200</div><div class="t" style="left:959px;top:245px;letter-spacing:.25px">0.70920</div><div class="t" style="left:959px;top:310px;letter-spacing:.25px">0.70640</div><div class="t" style="left:959px;top:375px;letter-spacing:.25px">0.70360</div><div class="t" style="left:959px;top:440px;letter-spacing:.25px">0.70080</div><div class="t" style="left:959px;top:571px;letter-spacing:.25px">0.69520</div><div class="t" style="left:2px;top:618px">16 Feb 2026</div><div class="t" style="left:130px;top:618px">19 Feb 04:00</div><div class="t" style="left:258px;top:618px">23 Feb 20:00</div><div class="t" style="left:386px;top:618px">26 Feb 12:00</div><div class="t" style="left:514px;top:618px">3 Mar 04:00</div><div class="t" style="left:642px;top:618px">5 Mar 20:00</div><div class="t" style="left:770px;top:618px">10 Mar 12:00</div><div class="t" style="left:898px;top:618px">13 Mar 04:00</div><div class="pb"></div><div class="t w" style="left:959px;top:506px;letter-spacing:.25px">0.69800</div><div class="t" style="left:24px;top:6px;letter-spacing:-0.7px">AUDUSD,H4</div><div class="t" style="left:107.3px;top:6px">0.70035</div><div class="t" style="left:163.4px;top:6px">0.70037</div><div class="t" style="left:219.6px;top:6px">0.69791</div><div class="t" style="left:275.7px;top:6px">0.69800</div>
</body></html>
